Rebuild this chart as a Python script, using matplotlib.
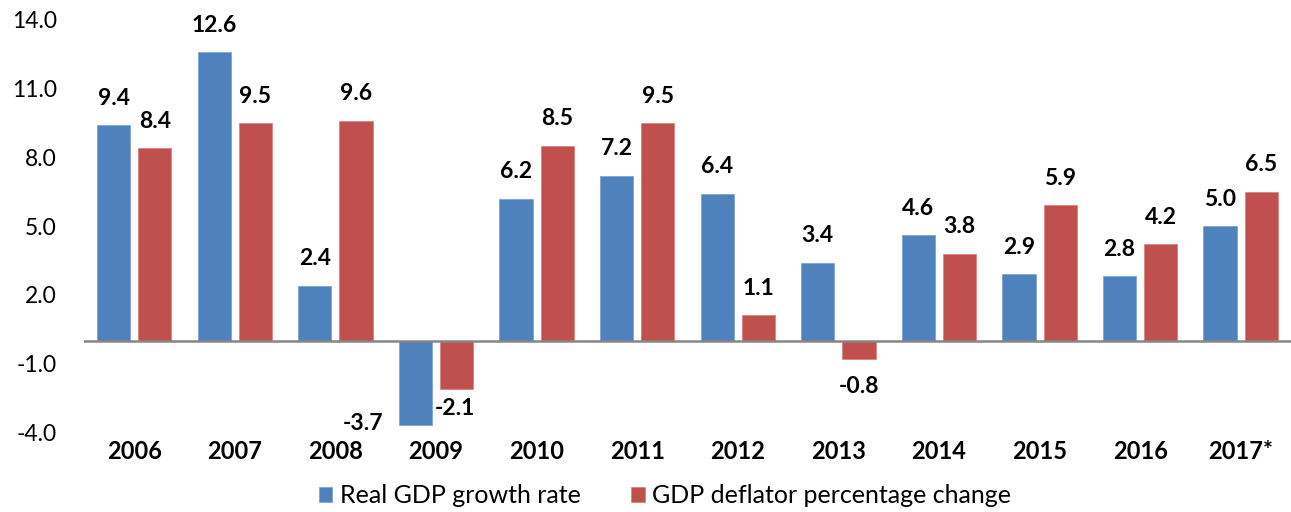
import numpy as np
import matplotlib
matplotlib.use("Agg")
import matplotlib.pyplot as plt

plt.rcParams['font.family'] = ['Lato', 'DejaVu Sans']

years = ['2006', '2007', '2008', '2009', '2010', '2011',
         '2012', '2013', '2014', '2015', '2016', '2017*']
real_gdp = [9.4, 12.6, 2.4, -3.7, 6.2, 7.2, 6.4, 3.4, 4.6, 2.9, 2.8, 5.0]
deflator = [8.4, 9.5, 9.6, -2.1, 8.5, 9.5, 1.1, -0.8, 3.8, 5.9, 4.2, 6.5]
yticks = [-4, -1, 2, 5, 8, 11, 14]

blue = '#4F81BD'
red = '#C0504D'

fig = plt.figure(figsize=(12.91, 5.12), dpi=100)
ax = fig.add_axes([0.065, 0.156, 0.935, 0.805])

x = np.arange(len(years))
w = 0.33
off = 0.205
b1 = ax.bar(x - off, real_gdp, w, color=blue, edgecolor='#7FA3D4', linewidth=0.6,
            label='Real GDP growth rate')
b2 = ax.bar(x + off, deflator, w, color=red, edgecolor='#D98583', linewidth=0.6,
            label='GDP deflator percentage change')

# special placements for negative labels (pixel offsets from bar end)
neg_offsets = {(0, 3): (-52, 2), (1, 3): (-2, -20), (1, 7): (0, -28)}

for s, (bars, vals) in enumerate([(b1, real_gdp), (b2, deflator)]):
    for i, (bar, v) in enumerate(zip(bars, vals)):
        cx = bar.get_x() + bar.get_width() / 2
        dx, dy = neg_offsets.get((s, i), (0, 27 if v >= 0 else -22))
        ax.annotate(f'{v:.1f}', (cx, v), xytext=(dx, dy), textcoords='offset pixels',
                    ha='center', va='center', fontsize=16.5, fontweight='bold',
                    color='black')

ax.axhline(0, color='#868686', linewidth=1.8, zorder=3)
ax.set_ylim(-4, 14)
ax.set_xlim(-0.5, len(years) - 0.5)
ax.set_yticks(yticks)
ax.set_yticklabels([f'{t:.1f}' for t in yticks], fontsize=16.5)
ax.set_xticks(x)
ax.set_xticklabels(years, fontsize=17, fontweight='bold')
ax.tick_params(axis='both', length=0)
ax.tick_params(axis='y', pad=19.5)
ax.tick_params(axis='x', pad=6)
for sp in ax.spines.values():
    sp.set_visible(False)

fig.legend(handles=[b1, b2], loc='lower center', bbox_to_anchor=(0.515, -0.035),
           ncol=2, frameon=False, fontsize=18, handlelength=0.55, handleheight=0.55,
           handletextpad=0.3, columnspacing=2.0)

fig.savefig('out.png', dpi=100)
